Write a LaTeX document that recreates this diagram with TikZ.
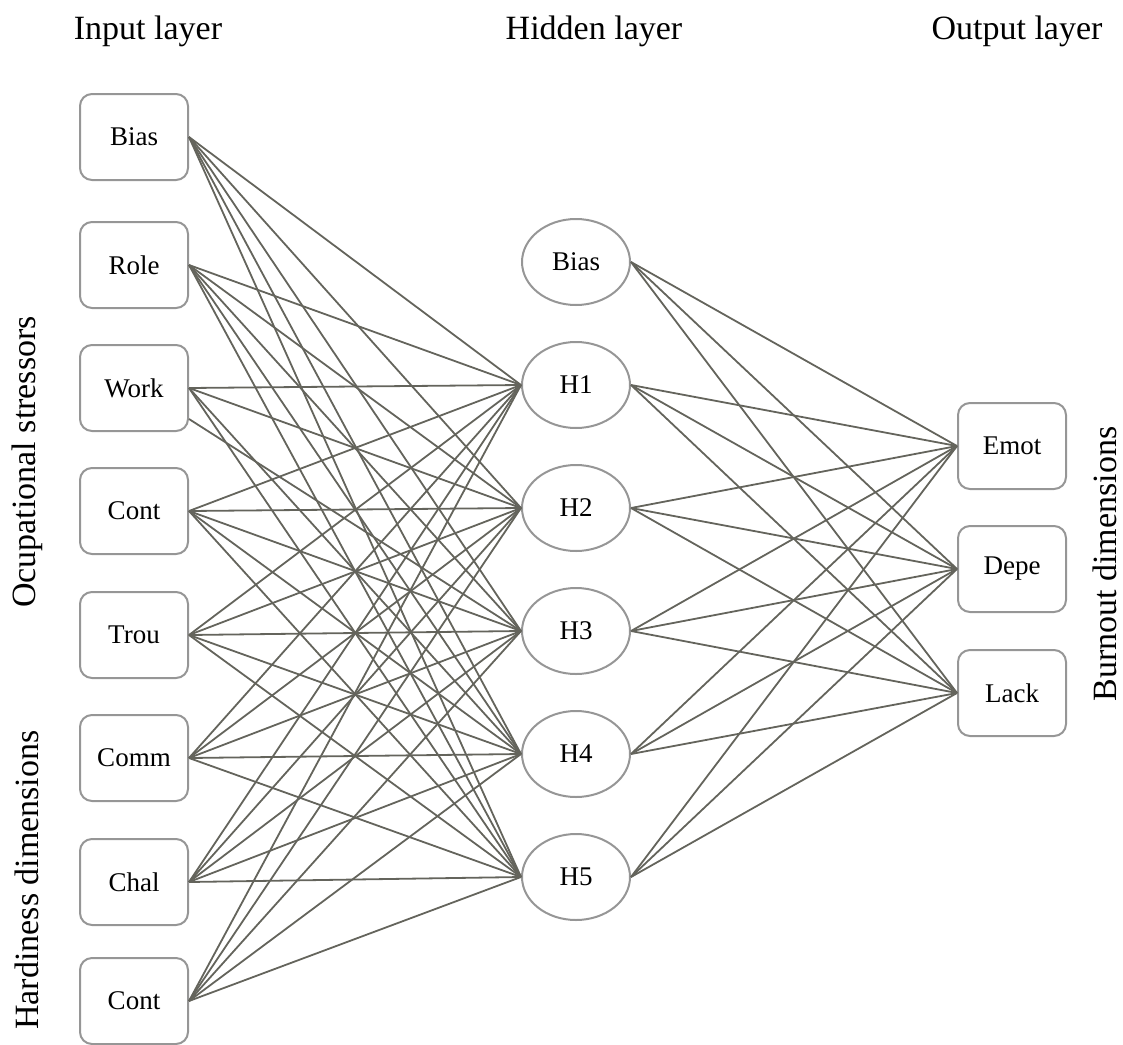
\documentclass[tikz,border=0pt]{standalone}
\usepackage{fontspec}
\setmainfont{Liberation Serif}
\usetikzlibrary{positioning, shapes.geometric}
\definecolor{wiregray}{RGB}{100, 100, 92}
\definecolor{framegray}{RGB}{150, 150, 150}

\begin{document}
\begin{tikzpicture}[x=0.5pt, y=-0.5pt,
    unitbox/.style={draw=framegray, line width=1pt, rounded corners=6pt,
          minimum width=54pt, minimum height=43pt, inner sep=0pt,
          font=\fontsize{13.5}{16}\selectfont},
    unitoval/.style={ellipse, draw=framegray, line width=1pt,
          minimum width=54pt, minimum height=43pt, inner sep=0pt,
          font=\fontsize{13.5}{16}\selectfont},
    wire/.style={draw=wiregray, line width=0.9pt},
    layertitle/.style={font=\fontsize{17}{20}\selectfont}]
    \useasboundingbox (0,0) rectangle (1123,1044);

    % layer titles
    \node[layertitle] (intitle) at (148,31) {Input layer};
    \node[layertitle] (hidtitle) at (594,31) {Hidden layer};
    \node[layertitle] (outtitle) at (1017,31) {Output layer};

    % side labels
    \node[layertitle, rotate=90] (stressors) at (27,462) {Ocupational stressors};
    \node[layertitle, rotate=90] (hardiness) at (27,880) {Hardiness dimensions};
    \node[layertitle, rotate=90] (burnout) at (1105,564) {Burnout dimensions};

    % input layer
    \foreach \name/\lab/\y in {ibias/Bias/137, role/Role/265, work/Work/388,
                               cont/Cont/511, trou/Trou/635, comm/Comm/758,
                               chal/Chal/882, ctrl/Cont/1001}
        \node[unitbox] (\name) at (134,\y) {\lab};

    % hidden layer
    \foreach \name/\lab/\y in {hbias/Bias/262, h1/H1/385, h2/H2/508,
                               h3/H3/631, h4/H4/754, h5/H5/877}
        \node[unitoval] (\name) at (576,\y) {\lab};

    % output layer
    \foreach \name/\lab/\y in {emot/Emot/446, depe/Depe/569, lack/Lack/693}
        \node[unitbox] (\name) at (1012,\y) {\lab};

    % input -> hidden
    \foreach \i in {ibias, role, cont, trou, comm, chal, ctrl}
        \foreach \j in {h1, h2, h3, h4, h5}
            \draw[wire] (\i.east) -- (\j.west);
    \foreach \j in {h1, h2, h4, h5}
        \draw[wire] (work.east) -- (\j.west);
    \draw[wire] ([yshift=-15.5pt]work.east) -- (h3.west);

    % hidden -> output
    \foreach \i in {hbias, h1, h2, h3, h4, h5}
        \foreach \j in {emot, depe, lack}
            \draw[wire] (\i.east) -- (\j.west);
\end{tikzpicture}
\end{document}
